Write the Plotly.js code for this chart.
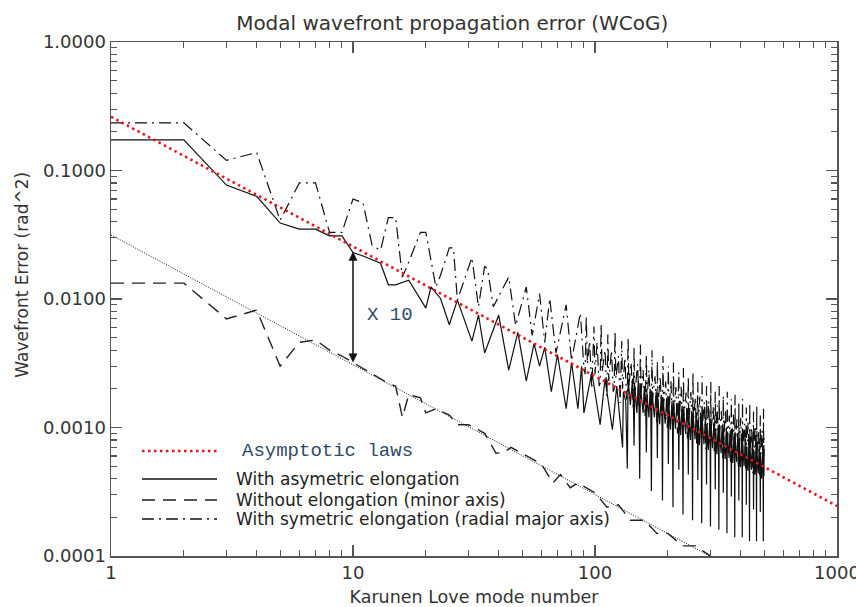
<!DOCTYPE html>
<html><head><meta charset="utf-8">
<script src="https://cdn.plot.ly/plotly-3.0.1.min.js"></script>
<style>html,body{margin:0;padding:0;background:#fff}</style>
</head><body><div id="chart" style="width:856px;height:607px"></div>
<script>
// ---- data ----
const asymModes = [1,2,3,4,5,6,7,8,9,10,11,13,14,15,17,20,21,23,25,27,31,33,35,40,44,48,52,56,59,62,66,70,76,80,85,88,90,97,105,110,118,123,130,131,134,
  136,137,140,143,144,145,146,149,151,152,
  153,154,158,160,162,163,164,167,169,170,
  171,172,176,179,180,181,182,185,188,189,
  190,191,195,198,200,201,202,205,208,209,
  210,211,215,218,221,222,223,226,229,230,
  231,232,237,240,242,243,244,248,251,252,
  253,254,259,262,265,266,267,270,274,275,
  276,277,282,286,288,289,290,294,298,299,
  300,301,306,310,313,314,315,319,323,324,
  325,326,332,335,338,339,340,345,349,350,
  351,352,358,362,365,366,367,371,376,377,
  378,379,385,389,392,393,394,399,404,405,
  406,407,413,418,421,422,423,428,433,434,
  435,436,443,447,451,452,453,458,463,464,
  465,466,473,477,481,482,483,488,494,495,
  496,497,499,500];
const asymError = [0.173,0.173,0.077,0.063,0.039,0.035,0.035,0.031,0.031,0.023,0.0216,0.019,0.0129,0.0129,0.0140,0.0085,0.0124,0.0101,0.0063,0.0098,0.0047,0.0075,0.0038,0.0075,0.0028,0.0055,0.0023,0.0045,0.0030,0.0042,0.0019,0.0037,0.0014,0.0032,0.0014,0.0030,0.0013,0.0027,0.00105,0.0024,0.00096,0.0021,0.0007,0.0019,0.0016,
  0.00048,0.0024,0.0015,0.0024,0.0018,0.00072,0.0021,0.0013,0.0023,0.0016,
  0.00040,0.0021,0.0013,0.0021,0.0016,0.00064,0.0018,0.0012,0.0020,0.0015,
  0.00032,0.0019,0.0012,0.0019,0.00146,0.00058,0.00166,0.00106,0.0018,0.0013,
  0.00027,0.0017,0.00107,0.0017,0.0013,0.00052,0.0015,0.00096,0.0016,0.0012,
  0.00024,0.00155,0.00098,0.00156,0.00119,0.00047,0.00135,0.00087,0.00148,0.00108,
  0.00021,0.0014,0.00089,0.00142,0.00108,0.00043,0.00123,0.0008,0.00135,0.00099,
  0.00019,0.00129,0.00081,0.0013,0.00099,0.00039,0.00113,0.00073,0.00125,0.0009,
  0.00018,0.00119,0.00074,0.0012,0.00091,0.00036,0.00104,0.00067,0.00114,0.00084,
  0.00017,0.00109,0.00069,0.0011,0.00084,0.00033,0.00095,0.00062,0.00105,0.00077,
  0.00016,0.001,0.00063,0.00101,0.00078,0.00031,0.00089,0.00057,0.00098,0.00071,
  0.00015,0.00093,0.00058,0.00094,0.00072,0.00029,0.00082,0.00053,0.00091,0.00066,
  0.00014,0.00086,0.00054,0.00087,0.00067,0.00027,0.00076,0.00049,0.00085,0.00062,
  0.00014,0.0008,0.0005,0.00082,0.00062,0.00025,0.00071,0.00046,0.00079,0.00057,
  0.00013,0.00075,0.00047,0.00077,0.00058,0.00023,0.00067,0.00043,0.00074,0.00053,
  0.00013,0.0007,0.00044,0.00072,0.00054,0.00022,0.00062,0.0004,0.00069,0.0005,
  0.00013,0.00066,0.00042,0.00068];

const minorModes = [1,2,3,4,5,6,7,8,9,10,12,14,15,16,17,19,20,22,25,27,30,35,39,42,45,55,60,67,72,79,85,100,112,125,140,160,180,200,230,260,300,320];
const minorError = [0.0133,0.0133,0.0070,0.0082,0.0030,0.0046,0.0048,0.0040,0.0036,0.0032,0.0026,0.0022,0.0021,0.0012,0.0018,0.0017,0.0013,0.0014,0.00125,0.00105,0.00105,0.0009,0.00063,0.00064,0.0007,0.00057,0.00052,0.00037,0.00043,0.00034,0.00037,0.00031,0.00024,0.00025,0.00019,0.00019,0.00015,0.00015,0.00012,0.00012,0.0001,0.000085];

const symModes = [1,2,3,4,5,6,7,8,9,10,11,12,13,14,15,16,17,19,20,22,23,25,26,27,31,33,35,36,38,44,47,52,55,59,62,65,69,76,80,87,90,
  91,92,93,95,97,99,100,102,104,
  105,106,107,110,112,113,114,117,119,
  120,121,122,125,127,129,130,133,135,
  136,137,138,141,144,145,146,150,152,
  153,154,155,158,161,163,164,167,170,
  171,172,173,177,180,181,182,186,189,
  190,191,192,196,199,201,202,206,209,
  210,211,212,216,219,222,223,227,230,
  231,232,233,238,241,243,244,249,252,
  253,254,255,260,263,266,267,271,275,
  276,277,278,283,287,289,290,295,299,
  300,301,302,308,311,314,315,320,324,
  325,326,327,333,337,339,340,346,350,
  351,352,353,359,363,366,367,373,377,
  378,379,380,386,391,393,394,400,405,
  406,407,408,415,419,422,423,429,434,
  435,436,437,444,449,452,453,459,464,
  465,466,467,474,479,482,483,490,495,
  496,497,498,500];
const symError = [0.235,0.235,0.12,0.138,0.041,0.080,0.080,0.033,0.033,0.060,0.056,0.026,0.024,0.043,0.043,0.0148,0.0194,0.033,0.033,0.0124,0.0153,0.025,0.025,0.0098,0.021,0.0087,0.018,0.017,0.0087,0.0148,0.0062,0.0124,0.0052,0.011,0.0046,0.0101,0.0038,0.0090,0.0033,0.0078,0.0029,
  0.0026,0.0074,0.0031,0.0047,0.002,0.0061,0.0026,0.0046,0.0021,
  0.0022,0.0064,0.0027,0.004,0.00175,0.0053,0.0023,0.004,0.0019,
  0.002,0.0056,0.0024,0.0036,0.00155,0.0047,0.002,0.0035,0.00165,
  0.00174,0.005,0.0021,0.0032,0.00137,0.0042,0.0018,0.0031,0.00146,
  0.00154,0.0044,0.00186,0.0028,0.00122,0.0037,0.0016,0.0028,0.00131,
  0.00138,0.004,0.00166,0.0025,0.0011,0.0033,0.00144,0.0025,0.00118,
  0.00124,0.0036,0.0015,0.00228,0.00099,0.003,0.0013,0.00229,0.00106,
  0.00112,0.0032,0.00136,0.00206,0.0009,0.0027,0.00117,0.00207,0.00097,
  0.00102,0.0029,0.00123,0.00187,0.00082,0.0025,0.00107,0.00189,0.00088,
  0.00093,0.0027,0.00113,0.00172,0.00075,0.00226,0.00098,0.00174,0.00081,
  0.00086,0.0025,0.00103,0.00158,0.00068,0.0021,0.0009,0.0016,0.00075,
  0.00078,0.00226,0.00096,0.00145,0.00063,0.0019,0.00083,0.00148,0.00069,
  0.00073,0.0021,0.00088,0.00134,0.00058,0.00177,0.00077,0.00137,0.00064,
  0.00067,0.0019,0.00081,0.00124,0.00054,0.00166,0.00071,0.00126,0.00059,
  0.00062,0.0018,0.00076,0.00116,0.0005,0.00154,0.00066,0.00119,0.00055,
  0.00059,0.00167,0.0007,0.00107,0.00047,0.00143,0.00062,0.0011,0.00051,
  0.00054,0.00156,0.00066,0.001,0.00044,0.00133,0.00058,0.00103,0.00048,
  0.0005,0.00146,0.00062,0.00094,0.00041,0.00124,0.00054,0.00095,0.00045,
  0.00048,0.0014,0.0006,0.0009];

// asymptotic laws (straight lines in log-log), end points
const lawModes = [1, 1000];
const upperLaw = [0.262, 0.000245];
const lowerLaw = [0.0315, 0.0000294];

// "X 10" arrow at mode 10
const arrowMode = 10, arrowTop = 0.024, arrowBottom = 0.0032;

const xTickVals = [1, 10, 100, 1000];
const xTickText = ['1', '10', '100', '1000'];
const yTickVals = [0.0001, 0.001, 0.01, 0.1, 1];
const yTickText = ['0.0001', '0.0010', '0.0100', '0.1000', '1.0000'];

const legendLabels = ['With asymetric elongation', 'Without elongation (minor axis)', 'With symetric elongation (radial major axis)'];
const lawLabel = 'Asymptotic laws';
const ratioLabel = 'X 10';

// ---- styles ----
const RED_DOT = '2.5px,3.5px';
const DASH = '13px,8px';
const DASHDOT = '12px,5px,2px,5px';

function minorVals(lo, hi) {
  const v = [];
  for (let d = lo; d < hi; d++) for (let m = 2; m <= 9; m++) v.push(m * Math.pow(10, d));
  return v;
}

const traces = [
  {x: lawModes, y: lowerLaw, mode: 'lines', line: {color: '#111', width: 1, dash: '1px,1.5px'}, hoverinfo: 'skip'},
  {x: minorModes, y: minorError, mode: 'lines', line: {color: '#222', width: 1.4, dash: DASH}},
  {x: symModes, y: symError, mode: 'lines', line: {color: '#111', width: 1.2, dash: DASHDOT}},
  {x: asymModes, y: asymError, mode: 'lines', line: {color: '#111', width: 1.2}},
  {x: lawModes, y: upperLaw, mode: 'lines', line: {color: '#e8141e', width: 2.6, dash: RED_DOT}},
];

const axisCommon = {
  type: 'log', showgrid: false, zeroline: false, showline: true, linecolor: '#555', linewidth: 1.5,
  ticks: 'inside', ticklen: 11, tickwidth: 1.3, tickcolor: '#555', mirror: 'allticks',
  tickfont: {family: 'DejaVu Sans', size: 18, color: '#333'}, tickmode: 'array', ticklabeloverflow: 'allow',
};

// legend drawn inside the plot (paper coordinates)
const legRows = [0.2043, 0.1498, 0.1089, 0.0720];
const legX0 = 0.0427, legX1 = 0.146;
const shapes = [
  {type: 'line', xref: 'paper', yref: 'paper', x0: legX0, x1: legX1, y0: legRows[0], y1: legRows[0], line: {color: '#e8141e', width: 2.6, dash: RED_DOT}},
  {type: 'line', xref: 'paper', yref: 'paper', x0: legX0, x1: legX1, y0: legRows[1], y1: legRows[1], line: {color: '#111', width: 1.3}},
  {type: 'line', xref: 'paper', yref: 'paper', x0: legX0, x1: legX1, y0: legRows[2], y1: legRows[2], line: {color: '#222', width: 1.4, dash: DASH}},
  {type: 'line', xref: 'paper', yref: 'paper', x0: legX0, x1: legX1, y0: legRows[3], y1: legRows[3], line: {color: '#111', width: 1.3, dash: DASHDOT}},
];

const annotations = [
  {xref: 'paper', yref: 'paper', x: 0.1777, y: legRows[0], xanchor: 'left', yanchor: 'middle', showarrow: false,
   text: lawLabel, font: {family: 'Liberation Mono', size: 19, color: '#2f4a66'}},
  ...legendLabels.map((t, i) => ({xref: 'paper', yref: 'paper', x: 0.1694, y: legRows[i + 1], xanchor: 'left', yanchor: 'middle',
   showarrow: false, text: t, font: {family: 'DejaVu Sans', size: 17, color: '#222'}})),
  {xref: 'paper', yref: 'paper', x: 0.384, y: 0.469, xanchor: 'center', yanchor: 'middle', showarrow: false,
   text: ratioLabel, font: {family: 'Liberation Mono', size: 19, color: '#2f4a66'}},
  {xref: 'x', yref: 'y', axref: 'x', ayref: 'y', x: Math.log10(arrowMode), y: Math.log10(arrowBottom),
   ax: Math.log10(arrowMode), ay: Math.log10(arrowTop), text: '', showarrow: true, arrowside: 'end+start',
   arrowhead: 2, arrowsize: 1.2, arrowwidth: 1.5, arrowcolor: '#111', standoff: 0, startstandoff: 0},
  {xref: 'paper', yref: 'paper', x: -0.122, y: 0.548, xanchor: 'center', yanchor: 'middle', textangle: -90, showarrow: false,
   text: 'Wavefront Error (rad^2)', font: {family: 'DejaVu Sans', size: 17, color: '#333'}},
];

const layout = {
  width: 856, height: 607, margin: {l: 111, r: 19, t: 42, b: 51},
  paper_bgcolor: '#fff', plot_bgcolor: '#fff', showlegend: false,
  font: {family: 'DejaVu Sans', color: '#333'},
  title: {text: 'Modal wavefront propagation error (WCoG)', font: {family: 'DejaVu Sans', size: 20, color: '#333'},
          x: 0.47, xref: 'paper', xanchor: 'center', y: 0.962, yref: 'container', yanchor: 'middle'},
  xaxis: Object.assign({}, axisCommon, {range: [0, 3], tickvals: xTickVals, ticktext: xTickText,
    minor: {tickmode: 'array', tickvals: minorVals(0, 3), ticks: 'inside', ticklen: 6, tickwidth: 1.1, tickcolor: '#555'},
    title: {text: 'Karunen Love mode number', font: {family: 'DejaVu Sans', size: 17.5, color: '#333'}, standoff: 12}}),
  yaxis: Object.assign({}, axisCommon, {range: [-4, 0], tickvals: yTickVals, ticktext: yTickText,
    minor: {tickmode: 'array', tickvals: minorVals(-4, 0), ticks: 'inside', ticklen: 6, tickwidth: 1.1, tickcolor: '#555'}}),
  shapes: shapes, annotations: annotations,
};

Plotly.newPlot('chart', traces, layout, {staticPlot: true, displayModeBar: false});
</script></body></html>
